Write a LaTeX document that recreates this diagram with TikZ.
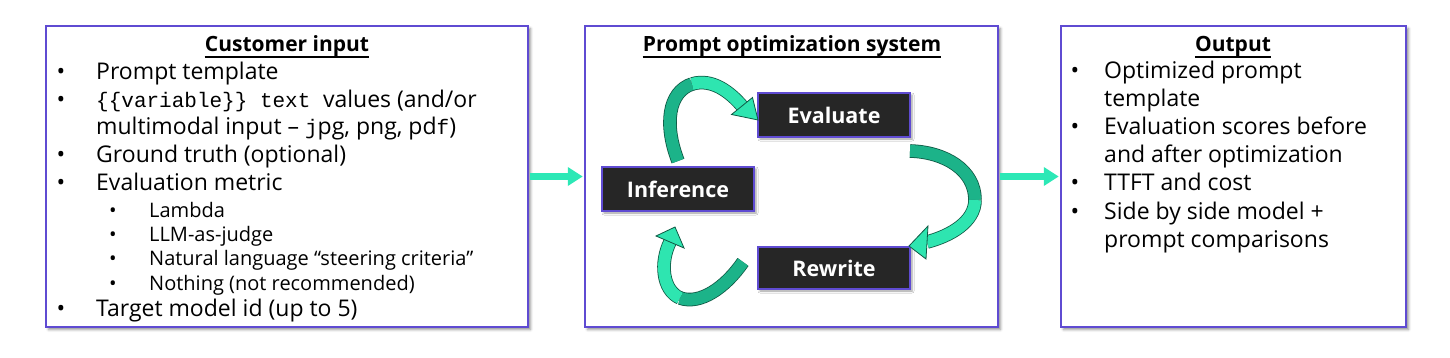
\documentclass[tikz,border=0pt]{standalone}
\usepackage{fontspec}
\setmainfont{Open Sans}
\setmonofont{Liberation Mono}
\usetikzlibrary{arrows.meta,shadows.blur,calc}
\definecolor{mint}{HTML}{2EE5B0}
\definecolor{mintdark}{HTML}{1CB389}
\definecolor{bandedge}{HTML}{0F5A45}
\definecolor{panelviolet}{HTML}{5F4BD2}
\definecolor{boxdark}{HTML}{262626}
\definecolor{flowc}{HTML}{2CE8B6}
\begin{document}
\begin{tikzpicture}[x=1pt,y=-1pt,
  panel/.style={draw=panelviolet, line width=1.5pt, fill=white, inner sep=0pt,
    blur shadow={shadow xshift=2.5pt, shadow yshift=-2.5pt, shadow blur radius=2.5pt, shadow opacity=45}},
  proc/.style={draw=panelviolet, line width=1.5pt, fill=boxdark, text=white, inner sep=0pt,
    minimum width=152pt, minimum height=44pt, font=\bfseries\fontsize{21.5}{25}\selectfont,
    blur shadow={shadow xshift=2pt, shadow yshift=-2pt, shadow blur radius=2pt, shadow opacity=40}},
  title/.style={anchor=base, inner sep=0pt, font=\bfseries\fontsize{21}{25}\selectfont},
  uline/.style={line width=1.4pt, black},
  tx/.style={anchor=base west, inner sep=0pt, font=\fontsize{23}{27}\selectfont},
  sx/.style={anchor=base west, inner sep=0pt, font=\fontsize{20}{23}\selectfont},
  bl/.style={anchor=base, inner sep=0pt, font=\fontsize{23}{27}\selectfont},
  sbl/.style={anchor=base, inner sep=0pt, font=\fontsize{20}{23}\selectfont},
  flow/.style={draw=flowc, line width=6.5pt, -{Triangle[length=15pt,width=18pt]}, shorten <=1pt, shorten >=1.5pt},
  band/.style={draw=bandedge, line width=0.8pt, double distance=12pt},
  bandhead/.style={fill=mint, draw=bandedge, line width=0.8pt, line join=miter}
]
\useasboundingbox (0,0) rectangle (1450,358);

% panels
\node[panel, minimum width=482pt, minimum height=301pt] (cin) at (287,176.5) {};
\node[panel, minimum width=413pt, minimum height=301pt] (pos) at (791.5,176.5) {};
\node[panel, minimum width=345pt, minimum height=301pt] (out) at (1233.5,176.5) {};

% flows between panels
\draw[flow] (cin.east) -- (pos.west);
\draw[flow] (pos.east) -- (out.west);

% titles
\node[title] (tcin) at (287,52) {Customer input};
\node[title] (tpos) at (792,52) {Prompt optimization system};
\node[title] (tout) at (1233,52) {Output};
\draw[uline] ([yshift=-5pt]tcin.base west) -- ([yshift=-5pt]tcin.base east);
\draw[uline] ([yshift=-5pt]tpos.base west) -- ([yshift=-5pt]tpos.base east);
\draw[uline] ([yshift=-5pt]tout.base west) -- ([yshift=-5pt]tout.base east);

% customer input list
\node[bl] (cb1) at (61,80) {•};
\node[tx] (ct1) at (96,80) {Prompt template};
\node[bl] (cb2) at (61,108) {•};
\node[tx] (ct2) at (96,108) {{\fontsize{21}{25}\selectfont\ttfamily \{\{variable\}\} text\ }values (and/or};
\node[tx] (ct3) at (96,135) {multimodal input – {\fontsize{21}{25}\selectfont\ttfamily j}pg, png, pd{\fontsize{21}{25}\selectfont\ttfamily f})};
\node[bl] (cb4) at (61,163) {•};
\node[tx] (ct4) at (96,163) {Ground truth (optional)};
\node[bl] (cb5) at (61,191) {•};
\node[tx] (ct5) at (96,191) {Evaluation metric};
\node[sbl] (sb1) at (113,217) {•};
\node[sx] (st1) at (149,217) {Lambda};
\node[sbl] (sb2) at (113,241) {•};
\node[sx] (st2) at (149,241) {LLM-as-judge};
\node[sbl] (sb3) at (113,265) {•};
\node[sx] (st3) at (149,265) {Natural language “steering criteria”};
\node[sbl] (sb4) at (113,290) {•};
\node[sx] (st4) at (149,290) {Nothing (not recommended)};
\node[bl] (cb6) at (61,316) {•};
\node[tx] (ct6) at (96,316) {Target model id (up to 5)};

% output list
\node[bl] (ob1) at (1075,79) {•};
\node[tx] (ot1) at (1104,79) {Optimized prompt};
\node[tx] (ot1b) at (1104,107) {template};
\node[bl] (ob2) at (1075,135) {•};
\node[tx] (ot2) at (1104,135) {Evaluation scores before};
\node[tx] (ot2b) at (1104,163) {and after optimization};
\node[bl] (ob3) at (1075,191) {•};
\node[tx] (ot3) at (1104,191) {TTFT and cost};
\node[bl] (ob4) at (1075,219) {•};
\node[tx] (ot4) at (1104,219) {Side by side model +};
\node[tx] (ot4b) at (1104,247) {prompt comparisons};

% process boxes
\node[proc] (eva) at (834,115) {Evaluate};
\node[proc] (inf) at (678,189) {Inference};
\node[proc, minimum height=42pt] (rew) at (834,268) {Rewrite};

% curved arrow: Inference -> Evaluate
\coordinate (a1s) at (678,161);
\coordinate (a1m) at (692,84);
\coordinate (a1b) at (742,106);
\coordinate (a1t) at (758,120);
\draw[band, double=mintdark] (a1s) .. controls (664,125) and (668,92) .. (a1m);
\draw[band, double=mint] (a1m) .. controls (712,78) and (730,92) .. (a1b);
\draw[bandhead] (731.5,114.5) -- (a1t) -- (752.5,97.5) -- cycle;

% curved arrow: Evaluate -> Rewrite
\coordinate (a2s) at (910,151);
\coordinate (a2m) at (975,200);
\coordinate (a2b) at (927,242);
\coordinate (a2t) at (909,246);
\draw[band, double=mintdark] (a2s) .. controls (945,152) and (975,170) .. (a2m);
\draw[band, double=mint] (a2m) .. controls (975,222) and (950,236) .. (a2b);
\draw[bandhead] (928,226) -- (a2t) -- (926,259) -- cycle;

% curved arrow: Rewrite -> Inference
\coordinate (a3s) at (743,262);
\coordinate (a3m) at (680,298);
\coordinate (a3b) at (670,242);
\coordinate (a3t) at (675,227);
\draw[band, double=mintdark] (a3s) .. controls (725,288) and (700,305) .. (a3m);
\draw[band, double=mint] (a3m) .. controls (662,290) and (660,262) .. (a3b);
\draw[bandhead] (656,236) -- (a3t) -- (684,248) -- cycle;
\end{tikzpicture}
\end{document}
